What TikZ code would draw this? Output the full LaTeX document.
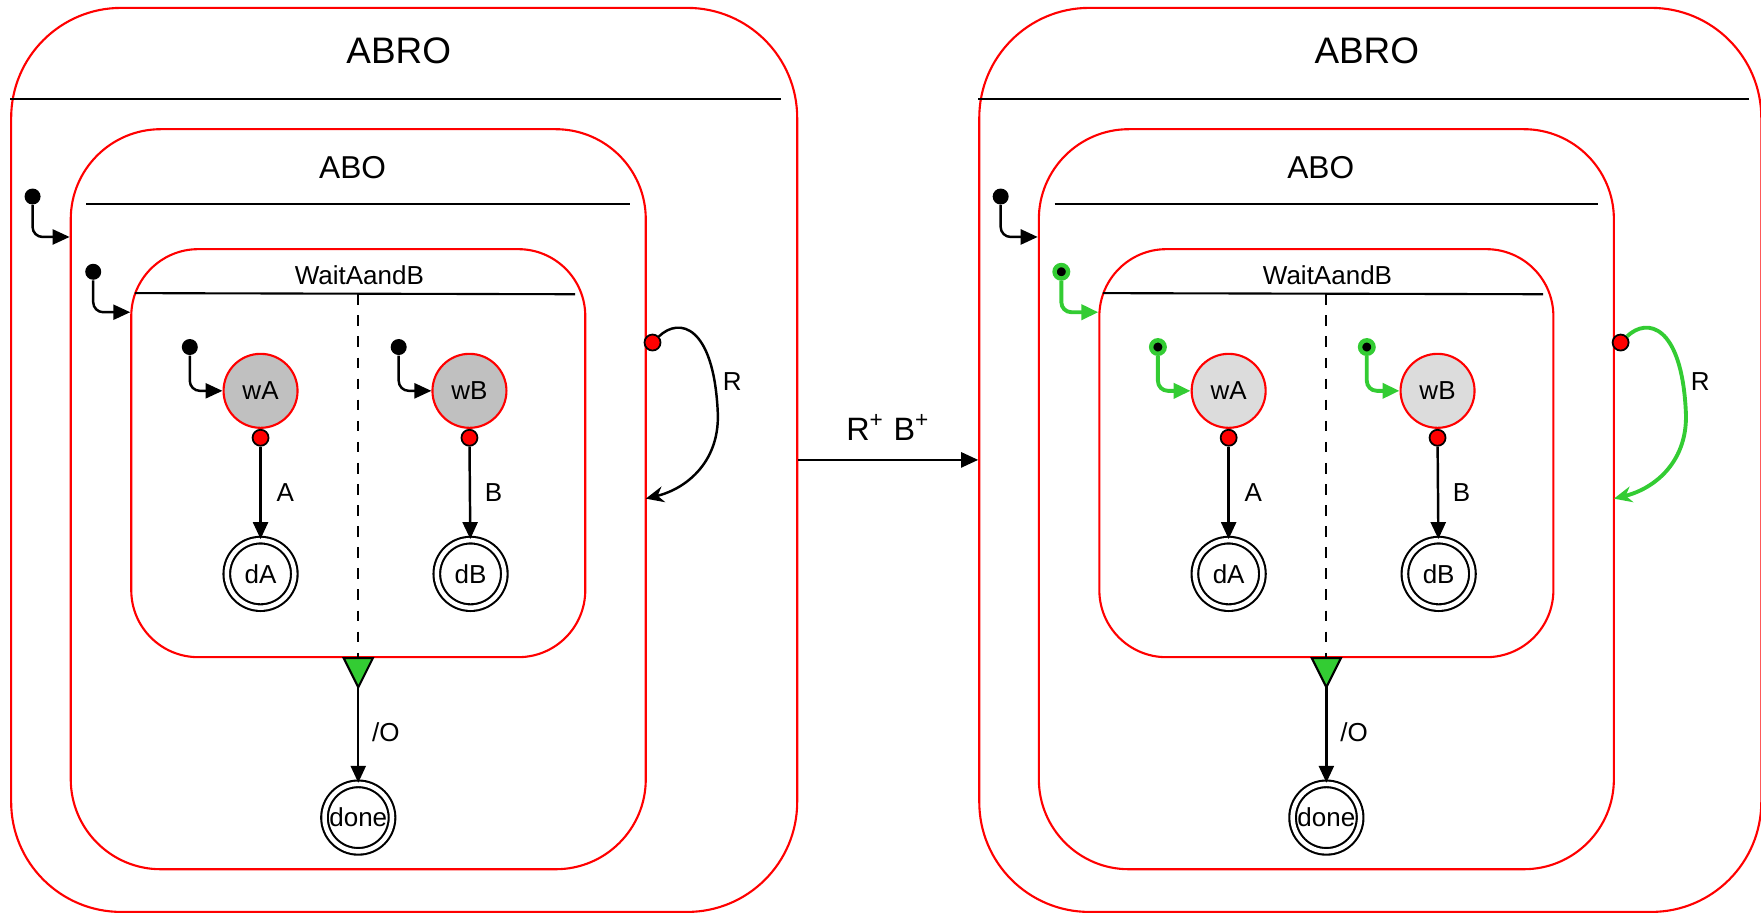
\documentclass[tikz,border=0pt]{standalone}
\usepackage{fontspec}
\setmainfont{Liberation Sans}
\usepackage{tikz}
\usetikzlibrary{arrows.meta}
\definecolor{stred}{HTML}{FF0000}
\definecolor{stgreen}{HTML}{33CC33}
\definecolor{darkfill}{HTML}{C0C0C0}
\definecolor{lightfill}{HTML}{DCDCDC}

% one ABRO chart: #1 name prefix, #2 x offset, #3 style of the inner entry dots,
% #4 style of the inner entry arrows and of the R loop, #5 fill of wA/wB, #6 outer width
\newcommand{\abrochart}[6]{%
\begin{scope}[shift={(#2,0)},name prefix=#1]
\node[region,rounded corners=11mm,anchor=west,minimum width=#6,minimum height=90.4mm] (abro) at (9,409.5) {};
\node[bigtitle] (abrotitle) at (355,45) {ABRO};
\draw[sep] (9,88) -- (695,88);
\node[region,rounded corners=9mm,minimum width=57.5mm,minimum height=74mm] (abo) at (319,444.5) {};
\node[midtitle] (abotitle) at (314,149) {ABO};
\draw[sep] (77,182) -- (561,182);
\node[initdot] (abostart) at (29,175) {};
\coordinate (aboentry) at (62,211);
\draw[trans,rounded corners=1mm] (abostart) |- (aboentry);
% the two parallel regions
\node[region,rounded corners=6.7mm,minimum width=45.4mm,minimum height=40.8mm] (wait) at (319,403.5) {};
\node[small] (waittitle) at (320,245) {WaitAandB};
\draw[sep] (120,261) -- (512,262);
\draw[dashed,line width=0.5pt] (319,262) -- (wait.south);
\node[#3] (waitstart) at (83,242) {};
\coordinate (waitentry) at (116,278);
\draw[#4,rounded corners=1mm] (waitstart) |- (waitentry);
\node[state,fill=#5] (wA) at (232,348) {wA};
\node[state,fill=#5] (wB) at (418,348) {wB};
\node[#3] (wAstart) at (169,309) {};
\node[#3] (wBstart) at (355,309) {};
\draw[#4,rounded corners=1mm] (wAstart) |- (wA);
\draw[#4,rounded corners=1mm] (wBstart) |- (wB);
\node[srcdot,anchor=north] (wAout) at (wA.south) {};
\node[srcdot,anchor=north] (wBout) at (wB.south) {};
\node[final] (dA) at (232,511) {dA};
\node[final] (dB) at (419,511) {dB};
\draw[trans] (wAout) -- (dA) node[small,midway,right=0.3mm] {A};
\draw[trans] (wBout) -- (dB) node[small,midway,right=0.2mm] {B};
% join bar and termination
\filldraw[fill=stgreen,draw=black,line width=0.6pt] (306,586) -- (332,586) -- (319,612) -- cycle;
\coordinate (join) at (319,612);
\node[final] (done) at (319,728) {done};
\draw[trans] (join) -- (done) node[small,midway,right=0.1mm,yshift=0.3mm] {/O};
% reset loop on ABO
\node[srcdot] (resetout) at (581,305) {};
\coordinate (resetin) at (575,444);
\draw[#4,-{Stealth[length=1.8mm,width=1.6mm]}] (resetout) .. controls (605,282) and (635,290) .. (639,365) .. controls (642,410) and (612,435) .. (resetin);
\node[small] (resetlbl) at (652,340) {R};
\end{scope}}

\begin{document}
\begin{tikzpicture}[x=0.11231mm,y=-0.11231mm,
  region/.style={draw=stred,line width=0.6pt,inner sep=0},
  sep/.style={line width=0.6pt},
  bigtitle/.style={font=\fontsize{10.5}{13}\selectfont},
  midtitle/.style={font=\fontsize{9}{11}\selectfont},
  small/.style={font=\fontsize{7.4}{9}\selectfont},
  state/.style={circle,draw=stred,line width=0.6pt,minimum size=7.4mm,inner sep=0,font=\fontsize{7.4}{9}\selectfont},
  final/.style={circle,draw,line width=0.6pt,double,double distance=0.45mm,minimum size=6.75mm,inner sep=0,font=\fontsize{7.4}{9}\selectfont},
  initdot/.style={circle,fill=black,inner sep=0,minimum size=1.6mm},
  livedot/.style={circle,fill=black,draw=stgreen,line width=1.25pt,inner sep=0,minimum size=1.35mm},
  srcdot/.style={circle,fill=stred,draw=black,line width=0.5pt,inner sep=0,minimum size=1.6mm},
  trans/.style={-{Triangle[length=1.7mm,width=1.5mm]},line width=0.7pt},
  live/.style={trans,stgreen,line width=1.1pt}
]
\useasboundingbox (0,0) rectangle (1568,813);
\abrochart{L-}{0}{initdot}{trans}{darkfill}{78.6mm}
\abrochart{R-}{862}{livedot}{live}{lightfill}{78.2mm}
% step taken on R and B
\draw[trans] (L-abro.east) -- (R-abro.west) node[midway,above=0.6mm,font=\fontsize{9.2}{11}\selectfont] {R\textsuperscript{+} B\textsuperscript{+}};
\end{tikzpicture}
\end{document}
